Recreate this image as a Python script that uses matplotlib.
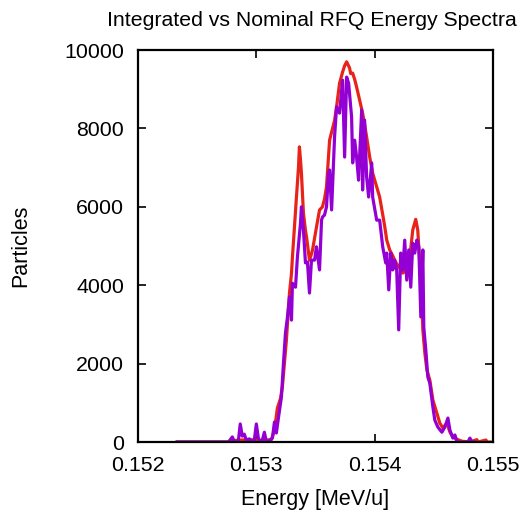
import matplotlib
matplotlib.use("Agg")
from matplotlib import pyplot as plt

# Nominal spectrum (red)
nominal_energy = [
    0.152331, 0.152754, 0.152814, 0.152941, 0.153042, 0.153127, 0.153153, 0.153178,
    0.153203, 0.153220, 0.153237, 0.153254, 0.153280, 0.153297, 0.153305, 0.153322,
    0.153339, 0.153356, 0.153364, 0.153373, 0.153381, 0.153398, 0.153415, 0.153424,
    0.153449, 0.153466, 0.153475, 0.153492, 0.153508, 0.153534, 0.153559, 0.153576,
    0.153593, 0.153619, 0.153644, 0.153661, 0.153678, 0.153703, 0.153729, 0.153746,
    0.153763, 0.153771, 0.153788, 0.153797, 0.153814, 0.153831, 0.153847, 0.153873,
    0.153898, 0.153915, 0.153932, 0.153958, 0.153983, 0.154017, 0.154042, 0.154068,
    0.154085, 0.154102, 0.154127, 0.154153, 0.154169, 0.154186, 0.154212, 0.154237,
    0.154254, 0.154271, 0.154297, 0.154322, 0.154347, 0.154364, 0.154381, 0.154398,
    0.154407, 0.154424, 0.154441, 0.154466, 0.154492, 0.154525, 0.154551, 0.154576,
    0.154610, 0.154636, 0.154661, 0.154703, 0.154737, 0.154805, 0.154864, 0.154873,
    0.154941, 0.154949, 0.154975,
]
nominal_counts = [
    0, 0, 40, 60, 40, 60, 300, 870,
    1100, 1400, 2000, 2600, 3800, 4300, 4720, 5480,
    6250, 7000, 7530, 7200, 6860, 5840, 5400, 5230,
    4640, 4800, 4900, 5200, 5480, 5920, 6000, 6200,
    6510, 7700, 8000, 8200, 8550, 9150, 9440, 9600,
    9700, 9650, 9540, 9400, 9410, 9250, 9060, 8720,
    8390, 8100, 7780, 7270, 6860, 6510, 6250, 5800,
    5500, 5150, 4900, 4750, 4640, 4550, 4440, 4310,
    4350, 4390, 4720, 5410, 5680, 5410, 4570, 3700,
    2860, 2270, 1840, 1580, 1070, 740, 480, 360,
    480, 255, 130, 60, 20, 0, 60, 0,
    50, 0, 0,
]

# Integrated spectrum (purple)
integrated_energy = [
    0.152331, 0.152763, 0.152780, 0.152797, 0.152814, 0.152847, 0.152864, 0.152881,
    0.152898, 0.152915, 0.152941, 0.152966, 0.152983, 0.153000, 0.153017, 0.153034,
    0.153051, 0.153068, 0.153085, 0.153110, 0.153136, 0.153153, 0.153169, 0.153186,
    0.153212, 0.153229, 0.153246, 0.153263, 0.153280, 0.153297, 0.153305, 0.153331,
    0.153347, 0.153373, 0.153381, 0.153398, 0.153415, 0.153432, 0.153449, 0.153466,
    0.153492, 0.153508, 0.153534, 0.153551, 0.153559, 0.153576, 0.153593, 0.153610,
    0.153619, 0.153636, 0.153661, 0.153678, 0.153703, 0.153729, 0.153746, 0.153763,
    0.153780, 0.153805, 0.153814, 0.153831, 0.153847, 0.153864, 0.153890, 0.153898,
    0.153915, 0.153932, 0.153949, 0.153975, 0.153983, 0.154017, 0.154042, 0.154068,
    0.154093, 0.154102, 0.154119, 0.154136, 0.154153, 0.154169, 0.154186, 0.154203,
    0.154220, 0.154237, 0.154254, 0.154271, 0.154288, 0.154305, 0.154322, 0.154339,
    0.154356, 0.154373, 0.154390, 0.154407, 0.154415, 0.154432, 0.154449, 0.154466,
    0.154492, 0.154508, 0.154534, 0.154568, 0.154593, 0.154619, 0.154636, 0.154661,
    0.154678, 0.154695, 0.154737, 0.154788, 0.154805, 0.154822, 0.154847,
]
integrated_counts = [
    0, 0, 60, 130, 0, 0, 460, 150,
    200, 50, 80, 0, 50, 460, 100, 0,
    50, 250, 0, 30, 100, 510, 230, 600,
    1150, 2000, 2780, 3190, 3700, 3110, 4050, 3950,
    4720, 5580, 6000, 5410, 4570, 4590, 3800, 4640,
    4640, 4980, 4390, 5660, 5740, 5790, 6000, 6860,
    6940, 5920, 7780, 8550, 8390, 9230, 7270, 9310,
    9150, 8290, 7120, 7700, 7270, 6680, 8470, 6430,
    8210, 6760, 6250, 7120, 6250, 5660, 5660, 4980,
    4570, 4820, 3880, 4820, 4390, 4640, 4390, 2860,
    4820, 4390, 5150, 4130, 4900, 3950, 5070, 4820,
    5150, 4980, 3190, 4900, 2930, 2350, 1660, 1500,
    890, 560, 380, 250, 380, 610, 300, 100,
    180, 0, 0, 0, 100, 0, 0,
]

x_ticks = [0.152, 0.153, 0.154, 0.155]
x_tick_labels = ["0.152", "0.153", "0.154", "0.155"]
y_ticks = [0, 2000, 4000, 6000, 8000, 10000]

plt.rcParams['font.family'] = ['Liberation Sans', 'DejaVu Sans']

fig = plt.figure(figsize=(5.3, 5.12), dpi=100)
ax = fig.add_axes([0.2604, 0.1367, 0.6698, 0.7656])

ax.plot(nominal_energy, nominal_counts, color='#e8231a', linewidth=2.3)
ax.plot(integrated_energy, integrated_counts, color='#9400d3', linewidth=2.3)

ax.set_xlim(0.152, 0.155)
ax.set_ylim(0, 10000)
ax.set_xticks(x_ticks)
ax.set_xticklabels(x_tick_labels)
ax.set_yticks(y_ticks)
ax.tick_params(direction='in', length=6, width=1.2, labelsize=15.4,
               top=True, right=True, pad=10)
for spine in ax.spines.values():
    spine.set_linewidth(1.6)

ax.set_xlabel("Energy [MeV/u]", fontsize=15.5, labelpad=10)
ax.set_ylabel("Particles", fontsize=15.5, labelpad=24)
ax.set_title("Integrated vs Nominal RFQ Energy Spectra", fontsize=15.3,
             pad=17, x=0.49)

fig.savefig("out.png", dpi=100)
